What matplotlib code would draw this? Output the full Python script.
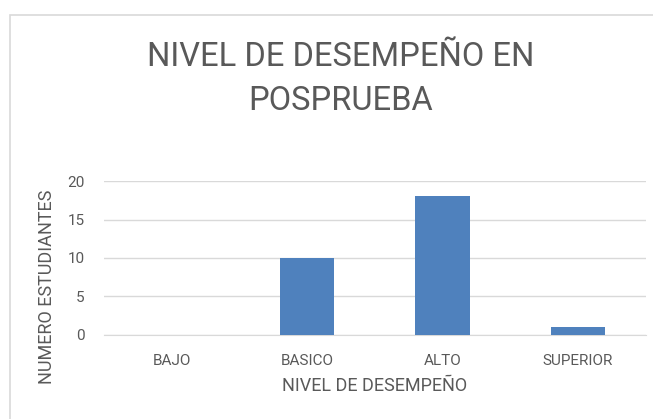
import matplotlib.pyplot as plt
from matplotlib.patches import Rectangle

niveles = ["BAJO", "BASICO", "ALTO", "SUPERIOR"]
estudiantes = [0, 10, 18, 1]

plt.rcParams['font.family'] = ['Roboto', 'DejaVu Sans']
gris = '#595959'

fig = plt.figure(figsize=(6.53, 4.19), dpi=100)
ax = fig.add_axes([0.159, 0.2005, 0.83, 0.3675])

# marco del grafico
fig.patches.append(Rectangle((10/653, -0.05), 1.1, 1 - 15/419 + 0.05, transform=fig.transFigure,
                             fill=False, edgecolor='#d9d9d9', linewidth=1.2))

ax.bar(niveles, estudiantes, width=0.4, color='#4f81bd', zorder=3)
ax.set_ylim(0, 20)
ax.set_xlim(-0.5, 3.5)
ax.set_yticks([0, 5, 10, 15, 20])
ax.grid(axis='y', color='#d9d9d9', linewidth=1, zorder=0)
for s in ['top', 'right', 'left']:
    ax.spines[s].set_visible(False)
ax.spines['bottom'].set_color('#d9d9d9')
ax.tick_params(length=0, colors=gris, labelsize=11)
ax.tick_params(axis='x', pad=14)
ax.tick_params(axis='y', pad=14)

ax.set_xlabel("NIVEL DE DESEMPEÑO", color=gris, fontsize=13, labelpad=6)
ax.set_ylabel("NUMERO ESTUDIANTES", color=gris, fontsize=13)
ax.yaxis.set_label_coords(-0.088, 0.31)
fig.text(0.522, 0.865, "NIVEL DE DESEMPEÑO EN", ha='center', va='center', color=gris,
         fontsize=23.5)
fig.text(0.522, 0.76, "POSPRUEBA", ha='center', va='center', color=gris,
         fontsize=23.5)

fig.savefig("out.png", dpi=100)
